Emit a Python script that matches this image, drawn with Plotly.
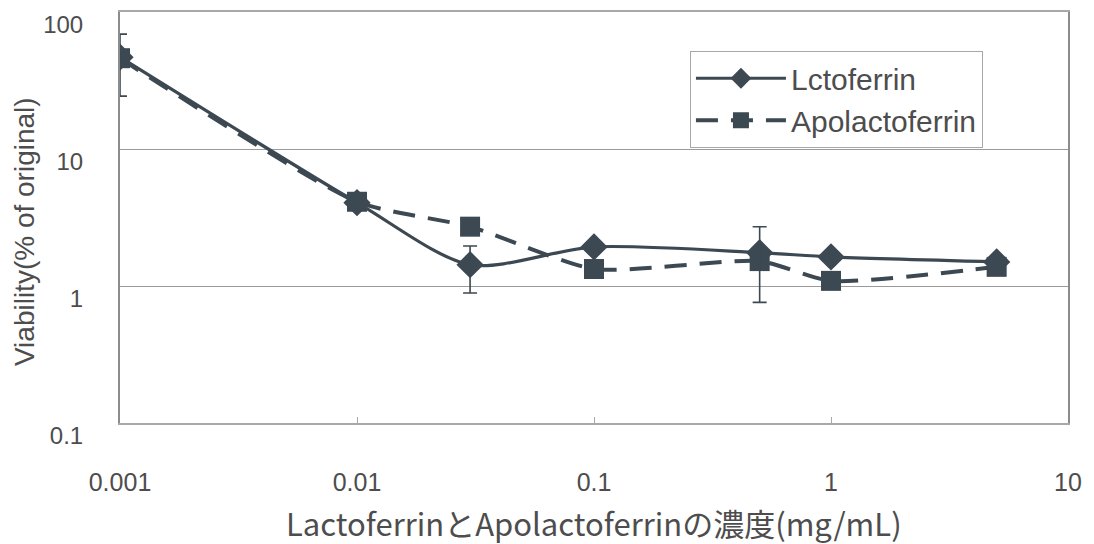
import plotly.graph_objects as go

# Concentration (mg/mL) and viability (% of original)
conc = [0.001, 0.01, 0.03, 0.1, 0.5, 1, 5]
lactoferrin = [46.8, 4.06, 1.43, 1.93, 1.75, 1.63, 1.50]
apolactoferrin = [46.0, 4.12, 2.71, 1.33, 1.52, 1.09, 1.38]

# Error bars (upper / lower limits) shown on the Lactoferrin series
err_conc = [0.001, 0.03, 0.5]
err_mid = [46.8, 1.43, 1.75]
err_upper = [69.0, 1.96, 2.71]
err_lower = [24.3, 0.89, 0.76]

x_ticks = [0.001, 0.01, 0.1, 1, 10]
x_ticktext = ["0.001", "0.01", "0.1", "1", "10"]
y_ticks = [0.1, 1, 10, 100]
y_ticktext = ["0.1", "1", "10", "100"]

ink = "#3c4852"
text_col = "#4d4d4d"
frame_col = "#a8a8a8"

fig = go.Figure()

fig.add_trace(go.Scatter(
    x=conc, y=lactoferrin, name="Lctoferrin", legendgroup="a",
    mode="lines+markers",
    line=dict(color=ink, width=3.2, shape="spline", smoothing=0.8),
    marker=dict(symbol="diamond", size=21, color=ink),
))
fig.add_trace(go.Scatter(
    x=conc, y=apolactoferrin, name="Apolactoferrin", legendgroup="b",
    mode="lines+markers",
    line=dict(color=ink, width=4, dash="22px,13px", shape="spline", smoothing=0.6),
    marker=dict(symbol="square", size=20, color=ink),
))
fig.add_trace(go.Scatter(
    x=err_conc, y=err_mid, mode="markers", showlegend=False,
    marker=dict(size=1, color="rgba(0,0,0,0)"),
    error_y=dict(
        type="data", symmetric=False,
        array=[u - m for u, m in zip(err_upper, err_mid)],
        arrayminus=[m - l for m, l in zip(err_mid, err_lower)],
        color=ink, thickness=1.6, width=7,
    ),
    hoverinfo="skip",
))

fig.update_layout(
    width=1094, height=544,
    margin=dict(l=120, r=26, t=12, b=121),
    paper_bgcolor="white", plot_bgcolor="white",
    font=dict(family="Liberation Sans, Arial, sans-serif", color=text_col),
    showlegend=True,
    legend=dict(
        x=0.601, y=0.905, xanchor="left", yanchor="top",
        bgcolor="white", bordercolor=frame_col, borderwidth=1.2,
        font=dict(size=30, color=text_col),
        itemwidth=90, tracegroupgap=0, traceorder="grouped",
    ),
)

fig.update_xaxes(
    type="log", range=[-3, 1], automargin=False,
    tickvals=x_ticks, ticktext=x_ticktext,
    tickfont=dict(size=25, color=text_col),
    ticks="inside", ticklen=6, tickcolor=frame_col, tickwidth=1.2,
    ticklabelstandoff=36,
    showgrid=False, zeroline=False,
    showline=True, linecolor=frame_col, linewidth=1.5, mirror=True,
)
fig.update_yaxes(
    type="log", range=[-1, 2], automargin=False,
    tickvals=y_ticks, ticktext=y_ticktext,
    tickfont=dict(size=24, color=text_col),
    ticks="", ticklabelstandoff=30, ticklabeloverflow="allow",
    ticklabelshift=13,
    showgrid=True, gridcolor="#9a9a9a", gridwidth=1,
    zeroline=False,
    showline=True, linecolor="#8c8c8c", linewidth=2, mirror=True,
)

# Axis titles
fig.add_annotation(
    text="Viability(% of original)", xref="paper", yref="paper",
    x=-0.1, y=0.465, xanchor="center", yanchor="middle",
    textangle=-90, showarrow=False,
    font=dict(size=28, color=text_col, family="Liberation Sans, Arial, sans-serif"),
)
fig.add_annotation(
    text="LactoferrinとApolactoferrinの濃度(mg/mL)", xref="paper", yref="paper",
    x=0.5, y=-0.243, xanchor="center", yanchor="middle",
    showarrow=False,
    font=dict(size=31, color=text_col, family="Noto Sans CJK JP, sans-serif"),
)

fig.write_html("out.html")
